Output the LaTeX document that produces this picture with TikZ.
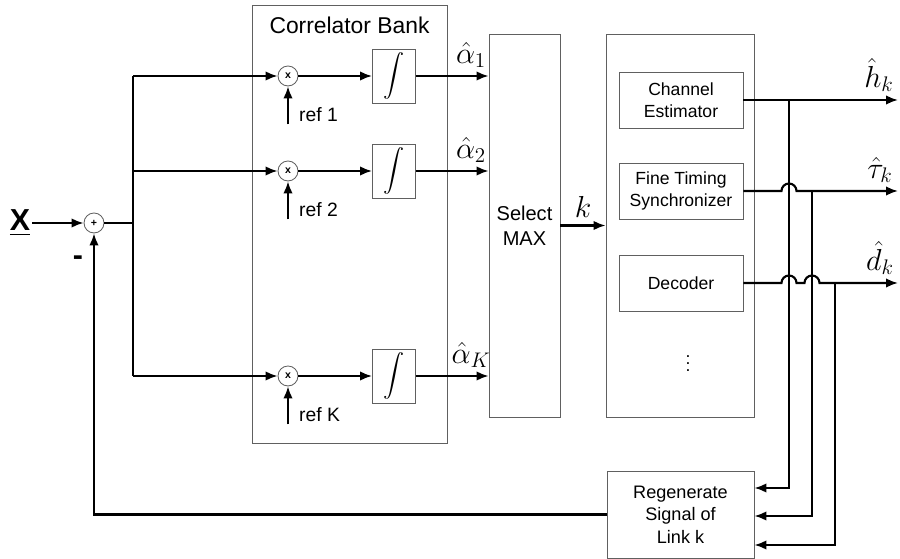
\documentclass[tikz,border=0pt]{standalone}
\usepackage{fontspec}
\setmainfont{Liberation Sans}
\usepackage{amsmath,amssymb}
\usetikzlibrary{positioning,arrows.meta}

\begin{document}
\begin{tikzpicture}[
      box/.style={draw=gray!75!black,line width=0.5pt},
      blk/.style={box,align=center,inner sep=0pt,font=\fontsize{10}{12.3}\selectfont},
      op/.style={circle,draw=gray!75!black,line width=0.5pt,minimum size=4mm,inner sep=0pt,font=\fontsize{6}{6}\selectfont\bfseries},
      sig/.style={line width=1.2pt},
      arr/.style={sig,-{Latex[length=2.4mm,width=1.9mm]}},
      lbl/.style={font=\LARGE,inner sep=1pt}]
    \useasboundingbox (0,0) rectangle (18,-11.18);
    % blocks
    \node[box,minimum width=3.9cm,minimum height=8.76cm] (bank) at (6.99,-4.48) {};
    \node[font=\fontsize{13}{15}\selectfont,below=0.12cm of bank.north] (banktitle) {Correlator Bank};
    \node[blk,minimum width=1.42cm,minimum height=7.66cm,font=\fontsize{11.4}{14}\selectfont] (sel) at (10.49,-4.51) {Select\\MAX};
    \node[box,minimum width=2.96cm,minimum height=7.66cm] (proc) at (13.6,-4.51) {};
    \node[blk,minimum width=2.48cm,minimum height=1.12cm] (chan) at (13.62,-2.0) {Channel\\Estimator};
    \node[blk,minimum width=2.48cm,minimum height=1.12cm] (fine) at (13.62,-3.82) {Fine Timing\\Synchronizer};
    \node[blk,minimum width=2.48cm,minimum height=1.12cm] (dec) at (13.62,-5.66) {Decoder};
    \node[inner sep=0pt] (more) at (13.76,-7.16) {$\vdots$};
    \node[blk,minimum width=2.94cm,minimum height=1.74cm,font=\fontsize{10.3}{12.7}\selectfont] (regen) at (13.61,-10.29) {Regenerate\\Signal of\\Link k};
    % input side
    \node[font=\LARGE\bfseries,inner sep=1pt] (xin) at (0.4,-4.46) {\underline{X}};
    \node[op] (sum) at (1.88,-4.46) {+};
    \node[font=\LARGE\bfseries] (minus) at (1.56,-5.22) {-};
    \draw[arr] (xin) -- (sum);
    \coordinate (split) at (2.66,-4.46);
    \draw[sig] (sum) -- (split);
    \foreach \i/\ry in {1/-1.52,2/-3.42,K/-7.52} {
      \coordinate (sp\i) at (2.66,\ry);
      \node[op] (mul\i) at (5.76,\ry) {x};
      \node[box,minimum width=0.86cm,minimum height=1.08cm,inner sep=0pt,font=\large] (int\i) at (7.88,\ry) {$\displaystyle\int$};
      \coordinate[below=0.76cm of mul\i.south] (ref\i);
      \node[anchor=west,font=\fontsize{11}{13}\selectfont] (reflbl\i) at ([xshift=0.1cm,yshift=0.2cm]ref\i) {ref \i};
      \draw[arr] (sp\i) -- (mul\i);
      \draw[arr] (ref\i) -- (mul\i);
      \draw[arr] (mul\i) -- (int\i);
      \draw[arr] (int\i) -- (sel.west |- int\i) node[lbl,pos=0.76,above=3pt] {$\hat{\alpha}_{\i}$};
    }
    \draw[sig] (sp1) -- (spK);
    \draw[arr] (sel) -- (proc) node[lbl,midway,above=3pt] {$k$};
    % outputs
    \coordinate (hout) at (17.96,-2.0);
    \coordinate (tout) at (17.96,-3.82);
    \coordinate (dout) at (17.96,-5.66);
    \coordinate (tap1) at (15.78,-2.0);
    \coordinate (tap2) at (16.24,-3.82);
    \coordinate (tap3) at (16.70,-5.66);
    \coordinate (hop1) at (15.63,-3.82);
    \coordinate (hop2) at (15.63,-5.66);
    \coordinate (hop3) at (16.09,-5.66);
    \draw[arr] (chan) -- (hout);
    \draw[arr] (fine) -- (hop1) arc[start angle=180,end angle=0,radius=0.15cm] -- (tout);
    \draw[arr] (dec) -- (hop2) arc[start angle=180,end angle=0,radius=0.15cm] -- (hop3) arc[start angle=180,end angle=0,radius=0.15cm] -- (dout);
    \node[lbl] (hlbl) at (17.58,-1.5) {$\hat{h}_k$};
    \node[lbl] (tlbl) at (17.6,-3.4) {$\hat{\tau}_k$};
    \node[lbl] (dlbl) at (17.6,-5.16) {$\hat{d}_k$};
    % feedback
    \draw[arr] (tap1) |- ([yshift=0.53cm]regen.east);
    \draw[arr] (tap2) |- ([yshift=-0.03cm]regen.east);
    \draw[arr] (tap3) |- ([yshift=-0.61cm]regen.east);
    \draw[arr] (regen) -| (sum);
\end{tikzpicture}
\end{document}
